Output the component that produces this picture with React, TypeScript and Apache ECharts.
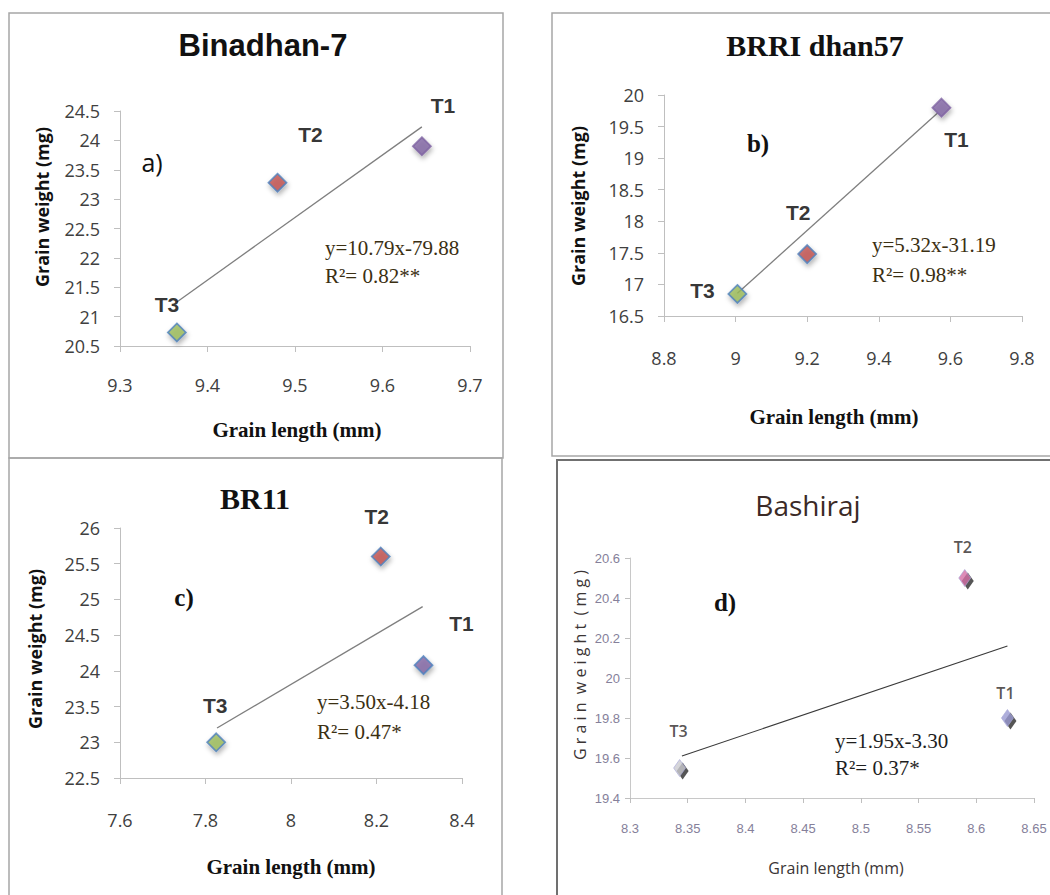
import React, { useEffect, useRef } from "react";
import * as echarts from "echarts";

// ---- data ----
const treatments = ["T1", "T2", "T3"];

const lengthA = [9.645, 9.48, 9.365];
const weightA = [23.9, 23.28, 20.73];
const trendAx = [9.365, 9.645];
const trendAy = [21.25, 24.23];

const lengthB = [9.575, 9.2, 9.005];
const weightB = [19.8, 17.48, 16.85];
const trendBx = [9.005, 9.565];
const trendBy = [16.86, 19.72];

const lengthC = [8.31, 8.21, 7.825];
const weightC = [24.08, 25.6, 23.0];
const trendCx = [7.827, 8.308];
const trendCy = [23.2, 24.9];

const lengthD = [8.627, 8.59, 8.343];
const weightD = [19.8, 20.5, 19.55];
const trendDx = [8.345, 8.627];
const trendDy = [19.61, 20.16];

const titles = ["Binadhan-7", "BRRI dhan57", "BR11", "Bashiraj"];
const panelLetters = ["a)", "b)", "c)", "d)"];
const equations = ["y=10.79x-79.88", "y=5.32x-31.19", "y=3.50x-4.18", "y=1.95x-3.30"];
const rSquared = ["R\u00B2= 0.82**", "R\u00B2= 0.98**", "R\u00B2= 0.47*", "R\u00B2= 0.37*"];
const xAxisTitle = "Grain length (mm)";
const yAxisTitle = "Grain weight (mg)";

const xRanges = [
  { min: 9.3, max: 9.7, interval: 0.1 },
  { min: 8.8, max: 9.8, interval: 0.2 },
  { min: 7.6, max: 8.4, interval: 0.2 },
  { min: 8.3, max: 8.65, interval: 0.05 },
];
const yRanges = [
  { min: 20.5, max: 24.5, interval: 0.5 },
  { min: 16.5, max: 20, interval: 0.5 },
  { min: 22.5, max: 26, interval: 0.5 },
  { min: 19.4, max: 20.6, interval: 0.2 },
];

// ---- styling / layout ----
const grids = [
  { left: 120, top: 111, width: 350, height: 235 },
  { left: 664, top: 95, width: 358, height: 221 },
  { left: 120, top: 528, width: 342, height: 250 },
  { left: 630, top: 558, width: 404, height: 240 },
];
const labelOffsets = [
  [[21, -41], [33, -48], [-10, -28]],
  [[15, 32], [-9, -42], [-35, -3]],
  [[38, -42], [-4, -40], [-1, -37]],
  [[-2, -25], [-2, -31], [-1, -37]],
];
const markerColorsABC = ["#8064A2", "#C0504D", "#9BBB59"];
const markerBordersABC = [
  ["#8064A2", "#4F81BD", "#4F81BD"],
  ["#8064A2", "#4F81BD", "#4F81BD"],
  ["#4F81BD", "#4F81BD", "#4F81BD"],
];
const markerColorsD = ["#9A9AD2", "#D46FA6", "#CACAD0"];

const fmt = (v: number) => String(+(+v).toFixed(2));

export default function App() {
  const ref = useRef<HTMLDivElement>(null);
  useEffect(() => {
    if (!ref.current) return;
    const chart = echarts.init(ref.current, undefined, { renderer: "svg" });
    const xs = [lengthA, lengthB, lengthC, lengthD];
    const ys = [weightA, weightB, weightC, weightD];
    const tx = [trendAx, trendBx, trendCx, trendDx];
    const ty = [trendAy, trendBy, trendCy, trendDy];

    const xAxis = xRanges.map((r, i) => ({
      type: "value",
      gridIndex: i,
      min: r.min,
      max: r.max,
      interval: r.interval,
      axisLine: { lineStyle: { color: i === 3 ? "#C8C8C8" : "#BFBFBF", width: 1 } },
      axisTick: { show: true, length: i === 3 ? 5 : 6, lineStyle: { color: "#BFBFBF" } },
      splitLine: { show: false },
      axisLabel: {
        formatter: fmt,
        margin: i === 3 ? 24 : i === 0 ? 30 : 33,
        color: i === 3 ? "#85809a" : "#404040",
        fontFamily: i === 3 ? "Liberation Sans" : "Open Sans",
        fontSize: i === 3 ? 13 : 18,
      },
    }));
    const yAxis = yRanges.map((r, i) => ({
      type: "value",
      gridIndex: i,
      min: r.min,
      max: r.max,
      interval: r.interval,
      axisLine: { show: true, lineStyle: { color: i === 3 ? "#C8C8C8" : "#BFBFBF", width: 1 } },
      axisTick: { show: true, length: i === 3 ? 5 : 6, lineStyle: { color: "#BFBFBF" } },
      splitLine: { show: false },
      axisLabel: {
        formatter: fmt,
        margin: i === 3 ? 10 : 20,
        color: i === 3 ? "#85809a" : "#404040",
        fontFamily: i === 3 ? "Liberation Sans" : "Open Sans",
        fontSize: i === 3 ? 13 : 18,
      },
    }));

    const series: any[] = [];
    for (let i = 0; i < 4; i++) {
      series.push({
        type: "line",
        xAxisIndex: i,
        yAxisIndex: i,
        data: tx[i].map((x, k) => [x, ty[i][k]]),
        showSymbol: false,
        symbol: "none",
        lineStyle: { color: i === 3 ? "#3a3a3a" : "#7f7f7f", width: i === 3 ? 1.1 : 1.3 },
        silent: true,
        z: 2,
      });
      if (i === 3) {
        series.push({
          type: "scatter",
          xAxisIndex: i,
          yAxisIndex: i,
          symbol: "diamond",
          symbolSize: [12, 17],
          symbolOffset: [3, 3],
          itemStyle: { color: "#2a2a2a" },
          data: xs[i].map((x, k) => [x, ys[i][k]]),
          z: 3,
          silent: true,
        });
      }
      series.push({
        type: "scatter",
        xAxisIndex: i,
        yAxisIndex: i,
        symbol: "diamond",
        symbolSize: i === 3 ? [12, 17] : 18,
        z: 4,
        data: xs[i].map((x, k) => ({
          name: treatments[k],
          value: [x, ys[i][k]],
          itemStyle:
            i === 3
              ? { color: markerColorsD[k], borderColor: "#A8A8D8", borderWidth: 0.8 }
              : {
                  color: markerColorsABC[k],
                  borderColor: markerBordersABC[i][k],
                  borderWidth: 1.8,
                  shadowBlur: 5,
                  shadowOffsetX: 1,
                  shadowOffsetY: 3,
                  shadowColor: "rgba(0,0,0,0.35)",
                },
          label: {
            show: true,
            position: "inside",
            offset: labelOffsets[i][k],
            formatter: "{b}",
            color: i === 3 ? "#2e2828" : "#000",
            fontWeight: i === 3 ? 600 : "bold",
            fontFamily: i === 3 ? "Open Sans" : "Liberation Sans",
            fontSize: i === 3 ? 16 : 21,
          },
        })),
      });
    }

    const boxes = [
      { x: 9, y: 13, w: 494, h: 445 },
      { x: 552, y: 13, w: 520, h: 443 },
      { x: 9, y: 458, w: 493, h: 460 },
      { x: 557, y: 460, w: 520, h: 460 },
    ];
    const graphic: any[] = [];
    boxes.forEach((b, i) =>
      graphic.push({
        type: "rect",
        shape: { x: b.x, y: b.y, width: b.w, height: b.h },
        style: { fill: "none", stroke: i === 3 ? "#707070" : "#A6A6A6", lineWidth: i === 3 ? 2 : 1.5 },
        z: 1,
      })
    );
    const titleStyles = [
      { x: 263, y: 45, font: "bold 31px 'Liberation Sans'", fill: "#111" },
      { x: 815, y: 45, font: "bold 30px 'Liberation Serif'", fill: "#111" },
      { x: 255, y: 498, font: "bold 30px 'Liberation Serif'", fill: "#111" },
      { x: 808, y: 505, font: "28px 'Open Sans'", fill: "#3b2a26" },
    ];
    titleStyles.forEach((t, i) =>
      graphic.push({
        type: "text",
        x: t.x,
        y: t.y,
        style: { text: titles[i], font: t.font, fill: t.fill, textAlign: "center", textVerticalAlign: "middle" },
      })
    );
    const letterPos = [
      [152, 162],
      [758, 143],
      [184, 597],
      [725, 602],
    ];
    letterPos.forEach((p, i) =>
      graphic.push({
        type: "text",
        x: p[0],
        y: p[1],
        style: {
          text: panelLetters[i],
          font: i === 0 ? "25px 'Open Sans'" : "bold 25px 'Liberation Serif'",
          fill: "#111",
          textAlign: "center",
          textVerticalAlign: "middle",
        },
      })
    );
    const eqPos = [
      [325, 248, 276],
      [872, 245, 275],
      [317, 702, 732],
      [835, 741, 768],
    ];
    eqPos.forEach((p, i) => {
      const fill = i === 3 ? "#1e1e1e" : "#3b2f12";
      graphic.push({
        type: "text",
        x: p[0],
        y: p[1],
        style: { text: equations[i], font: "21px 'Liberation Serif'", fill, textAlign: "left", textVerticalAlign: "middle" },
      });
      graphic.push({
        type: "text",
        x: p[0],
        y: p[2],
        style: { text: rSquared[i], font: "21px 'Liberation Serif'", fill, textAlign: "left", textVerticalAlign: "middle" },
      });
    });
    const xTitlePos = [
      [297, 430],
      [834, 417],
      [291, 867],
      [836, 868],
    ];
    xTitlePos.forEach((p, i) =>
      graphic.push({
        type: "text",
        x: p[0],
        y: p[1],
        style: {
          text: xAxisTitle,
          font: i === 3 ? "16px 'Open Sans'" : "bold 21px 'Liberation Serif'",
          fill: i === 3 ? "#3b3535" : "#111",
          textAlign: "center",
          textVerticalAlign: "middle",
        },
      })
    );
    const yTitlePos = [
      [42, 207],
      [578, 206],
      [35, 649],
      [580, 665],
    ];
    yTitlePos.forEach((p, i) =>
      graphic.push({
        type: "text",
        x: p[0],
        y: p[1],
        rotation: Math.PI / 2,
        style: {
          text: i === 3 ? "G r a i n  w e i g h t  ( m g )" : yAxisTitle,
          font: i === 3 ? "16px 'Open Sans'" : "bold 18px 'Open Sans'",
          fill: i === 3 ? "#3b3535" : "#111",
          textAlign: "center",
          textVerticalAlign: "middle",
        },
      })
    );

    chart.setOption({
      animation: false,
      backgroundColor: "#ffffff",
      grid: grids.map((g) => ({ ...g, containLabel: false })),
      xAxis,
      yAxis,
      series,
      graphic,
    });
    return () => chart.dispose();
  }, []);
  return (
    <div
      ref={ref}
      style={{ position: "fixed", left: 0, top: 0, width: 1050, height: 895, background: "#fff" }}
    />
  );
}
